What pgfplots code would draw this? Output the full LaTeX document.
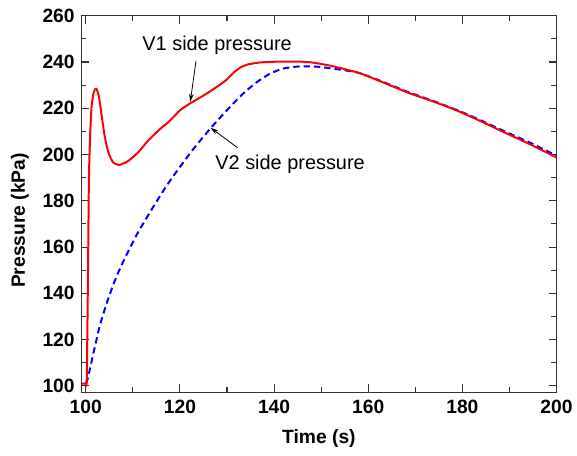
\documentclass[border=0pt]{standalone}
\usepackage{fontspec}
\setmainfont{Liberation Sans}
\usepackage{pgfplots}
\pgfplotsset{compat=1.18}
\usetikzlibrary{arrows.meta}
\definecolor{axgray}{RGB}{50,50,50}
\begin{document}
\begin{tikzpicture}
\begin{axis}[
  scale only axis,
  width=358.2pt, height=283.9pt,
  xmin=99.05, xmax=200, ymin=97.2, ymax=260,
  xtick={100,120,...,200}, ytick={100,120,...,260},
  minor x tick num=1, minor y tick num=1,
  tick align=inside,
  major tick length=6pt, minor tick length=3.8pt,
  every tick/.style={axgray, line width=0.8pt},
  axis line style={axgray, line width=1.1pt},
  /pgf/number format/assume math mode=true,
  /pgf/number format/.cd, 1000 sep={}, /pgfplots/.cd,
  ticklabel style={font=\fontsize{14.5}{17}\selectfont\bfseries},
  xticklabel style={yshift=-2pt},
  yticklabel style={xshift=-1.5pt},
  xlabel={Time (s)}, ylabel={Pressure (kPa)},
  label style={font=\fontsize{14.5}{17}\selectfont\bfseries},
  xlabel style={at={([yshift=-34.5pt]axis description cs:0.5,0)}, anchor=center},
  ylabel style={at={([xshift=-46.3pt]axis description cs:0,0.456)}, anchor=center},
  clip=false,
]
\coordinate (sw) at (rel axis cs:0,0);
\coordinate (ne) at (rel axis cs:1,1);
\addplot[blue, line width=1.5pt, dash pattern=on 4.8pt off 3pt, smooth, tension=0.4] table {
x y
100.0 101.0
100.4 103.0
101.0 108.5
101.6 114
102.3 120.2
103.0 126.2
104.4 135.5
105.8 143.5
107.0 149.5
108.3 155.2
109.6 160.5
111.0 166
112.5 171.2
114.0 176.3
115.5 181.2
117.0 186
118.7 191
120.5 196
122.5 201.5
124.7 207
127.0 212.5
130.0 219.2
133.0 225.5
136.0 230.8
139.0 234.8
142.0 237.2
145.5 238.1
149.0 238
153.0 237
158.0 235.3
163.0 231.5
168.5 227
174.0 223
179.1 219
184.0 214.7
189.0 210
194.5 205
200.0 199.5
};
\addplot[red, line width=1.5pt, smooth, tension=0.3] table {
x y
99.05 101.0
99.95 101.0
100.2 102.5
100.45 145
100.66 189
100.9 207
101.2 220
101.6 226.3
102.0 228.3
102.3 228.4
102.8 225
103.3 218
104.0 208
104.8 200.9
105.8 196.6
107.1 195.5
109.0 197.2
111.1 200.9
113.2 205.9
115.7 210.9
117.7 214.3
118.8 216.6
119.9 218.9
121.0 220.6
122.4 222.4
125.0 225.5
127.5 228.8
129.7 232
131.5 235.6
133.0 237.8
134.5 239
137.0 239.8
140.0 240.1
145.0 240.2
148.0 239.8
152.0 238.4
158.0 235.3
163.0 231.3
168.5 226.7
174.0 222.8
179.1 218.8
184.0 214.3
189.0 209.5
194.5 204.3
200.0 198.7
};
\node[font=\fontsize{15}{17}\selectfont] at (axis cs:127.9,247) {V1 side pressure};
\node[font=\fontsize{15}{17}\selectfont] at (axis cs:143.4,195.7) {V2 side pressure};
\draw[-{Stealth[length=6pt,width=3.5pt]}, line width=0.6pt] (axis cs:123.4,240.3) -- (axis cs:122.2,222.8);
\draw[-{Stealth[length=6pt,width=3.5pt]}, line width=0.6pt] (axis cs:132.2,203) -- (axis cs:126.5,211.6);
\end{axis}
\path ([shift={(-61.3pt,-47.8pt)}]sw) rectangle ([shift={(13.3pt,11.85pt)}]ne);
\end{tikzpicture}
\end{document}
